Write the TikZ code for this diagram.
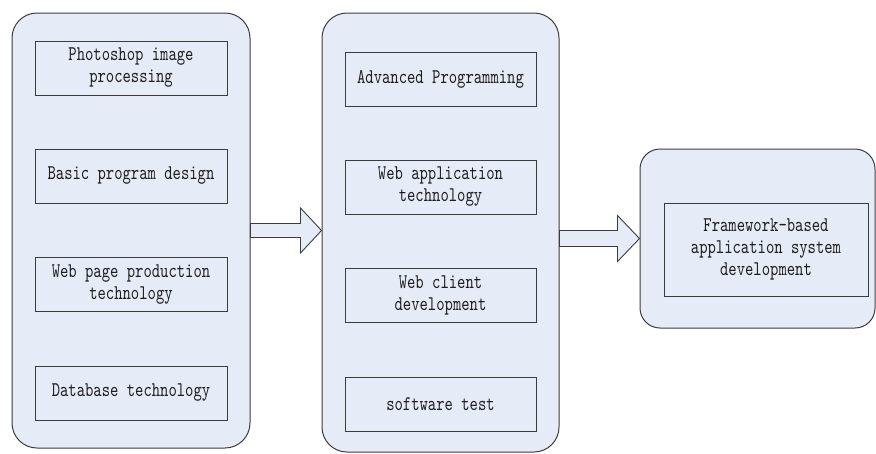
\documentclass[tikz,border=0pt]{standalone}
\usepackage{fontspec}
\newfontfamily\boxfont{lmmono10-regular.otf}[FakeStretch=0.76]
\usetikzlibrary{calc}
\definecolor{panelfill}{HTML}{E6ECF7}
\definecolor{edge}{HTML}{3C3C3C}
\definecolor{textcol}{HTML}{1E1E1E}
\begin{document}
\begin{tikzpicture}[x=1pt,y=-1pt,
  panel/.style={draw=edge, fill=panelfill, line width=1pt, rounded corners=25pt, inner sep=0pt},
  item/.style={draw=edge, line width=0.9pt, inner sep=0pt, minimum height=54pt,
    font=\boxfont\fontsize{20.9}{22}\selectfont, align=center, text=textcol},
  blockarrow/.style={draw=edge, fill=panelfill, line width=0.9pt, line join=miter}]
\useasboundingbox (0,0) rectangle (876,453);

% three stage panels
\node[panel, minimum width=238pt, minimum height=435pt] (c1) at (131,230.5) {};
\node[panel, minimum width=237pt, minimum height=439pt] (c2) at (440.5,232.5) {};
\node[panel, rounded corners=20pt, minimum width=235pt, minimum height=179pt] (c3) at (757.5,238.5) {};

% stage 1 courses
\node[item, minimum width=192pt] (a1) at (131,68) {Photoshop image\\processing};
\node[item, minimum width=192pt] (a2) at (131,176) {Basic program design};
\node[item, minimum width=192pt] (a3) at (131,284.5) {Web page production\\technology};
\node[item, minimum width=192pt] (a4) at (131,393) {Database technology};

% stage 2 courses
\node[item, minimum width=191pt] (b1) at (440.5,79) {Advanced Programming};
\node[item, minimum width=191pt] (b2) at (440.5,187) {Web application\\technology};
\node[item, minimum width=191pt] (b3) at (440.5,295.5) {Web client\\development};
\node[item, minimum width=191pt] (b4) at (440.5,404) {software test};

% stage 3
\node[item, minimum width=204pt, minimum height=93pt] (r1) at (766,249.5) {Framework-based\\application system\\development};

% block arrows between the panels
\draw[blockarrow] let \p1=(c1.east), \p2=(c2.west) in
  (\x1,\y2+9pt) -- (\x2-21pt,\y2+9pt) -- (\x2-21pt,\y2+24.5pt) -- (\x2,\y2+2pt)
  -- (\x2-21pt,\y2-20.5pt) -- (\x2-21pt,\y2-5pt) -- (\x1,\y2-5pt) -- cycle;
\draw[blockarrow] let \p1=(c2.east), \p2=(c3.west) in
  (\x1,\y2+8pt) -- (\x2-22pt,\y2+8pt) -- (\x2-22pt,\y2+23pt) -- (\x2,\y2)
  -- (\x2-22pt,\y2-23pt) -- (\x2-22pt,\y2-8pt) -- (\x1,\y2-8pt) -- cycle;
\end{tikzpicture}
\end{document}
